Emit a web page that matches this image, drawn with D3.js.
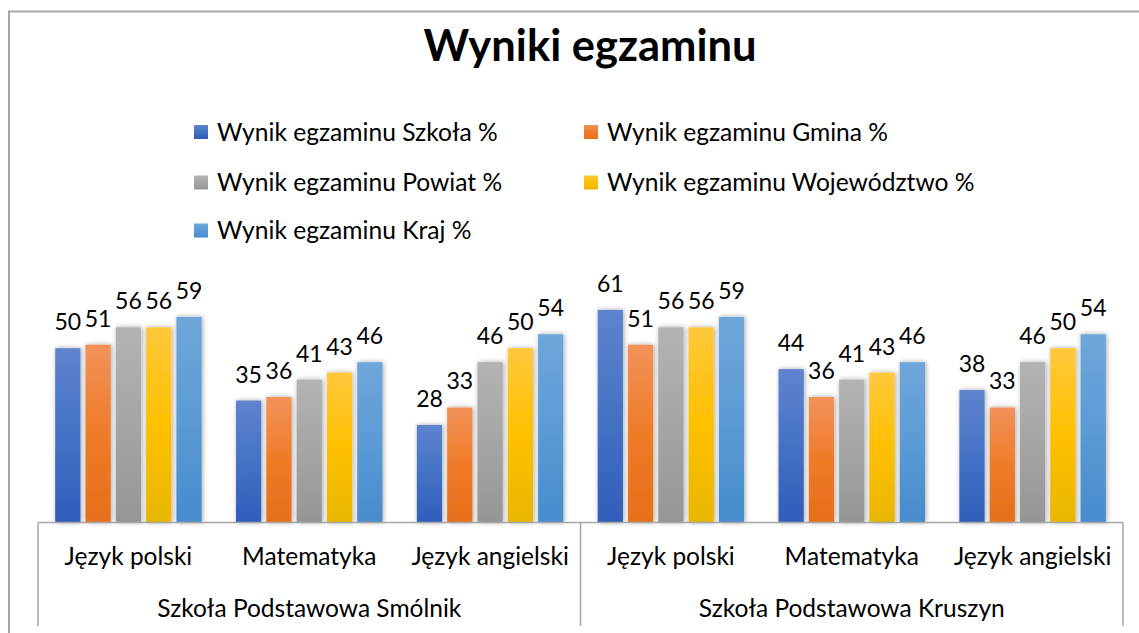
<!DOCTYPE html>
<html>
<head>
<meta charset="utf-8">
<script src="https://cdn.jsdelivr.net/npm/d3@7"></script>
<style>
  body { margin: 0; background: #fff; }
  svg { display: block; font-family: Lato, "Open Sans", sans-serif; }
</style>
</head>
<body>
<svg width="1139" height="633"></svg>
<script>
// Chart data
const groups = ["Szkoła Podstawowa Smólnik", "Szkoła Podstawowa Kruszyn"];
const subjects = ["Język polski", "Matematyka", "Język angielski"];
const seriesNames = [
    "Wynik egzaminu Szkoła %",
    "Wynik egzaminu Gmina %",
    "Wynik egzaminu Powiat %",
    "Wynik egzaminu Województwo %",
    "Wynik egzaminu Kraj %"
];
const szkola      = [50, 35, 28, 61, 44, 38];
const gmina       = [51, 36, 33, 51, 36, 33];
const powiat      = [56, 41, 46, 56, 41, 46];
const wojewodztwo = [56, 43, 50, 56, 43, 50];
const kraj        = [59, 46, 54, 59, 46, 54];

const seriesValues = [szkola, gmina, powiat, wojewodztwo, kraj];
// top / middle / bottom gradient stops per series
const colors = [
    ["#5f83cf", "#4472c4", "#2f5dba"],
    ["#f2925a", "#ef7b28", "#e66f1a"],
    ["#b3b3b3", "#a5a5a5", "#959595"],
    ["#ffc83c", "#ffc000", "#e8b600"],
    ["#6ea6da", "#5b9bd5", "#468bcd"]
];

// flat category list: one entry per group/subject pair
const cats = groups.flatMap((g, gi) => subjects.map((s, si) => ({ g, s, gi, si, key: g + "|" + s })));

const svg = d3.select("svg");
const defs = svg.append("defs");

colors.forEach((c, i) => {
    const grad = defs.append("linearGradient")
        .attr("id", "grad" + i)
        .attr("x1", 0).attr("y1", 0).attr("x2", 0).attr("y2", 1);
    grad.append("stop").attr("offset", "0%").attr("stop-color", c[0]);
    grad.append("stop").attr("offset", "50%").attr("stop-color", c[1]);
    grad.append("stop").attr("offset", "100%").attr("stop-color", c[2]);
});

defs.append("filter").attr("id", "shadow")
    .attr("x", "-30%").attr("y", "-10%").attr("width", "160%").attr("height", "120%")
    .append("feDropShadow")
    .attr("dx", 1).attr("dy", 0).attr("stdDeviation", 2.5)
    .attr("flood-color", "#000").attr("flood-opacity", 0.35);

// outer chart frame (cropped on the right and bottom)
svg.append("path")
    .attr("d", "M9,640V11.5H1150")
    .attr("fill", "none")
    .attr("stroke", "#a6a6a6")
    .attr("stroke-width", 2);

// title
svg.append("text")
    .attr("x", 590).attr("y", 61)
    .attr("text-anchor", "middle")
    .attr("font-size", 43.5).attr("font-weight", "bold")
    .attr("fill", "#000")
    .text("Wyniki egzaminu");

// legend
const legendCols = [194, 584];
const legendRows = [132, 182.5, 230.5];
const legend = svg.append("g").selectAll("g")
    .data(seriesNames)
    .join("g")
    .attr("transform", (d, i) => `translate(${legendCols[i % 2]},${legendRows[Math.floor(i / 2)]})`);
legend.append("rect")
    .attr("x", 0).attr("y", -7).attr("width", 14).attr("height", 14)
    .attr("fill", (d, i) => `url(#grad${i})`);
legend.append("text")
    .attr("x", 23).attr("y", 0).attr("dy", "0.35em")
    .attr("font-size", 24.6).attr("fill", "#000")
    .text(d => d);

// scales
const x0 = d3.scaleBand()
    .domain(cats.map(d => d.key))
    .range([38, 1123])
    .paddingInner(0.19)
    .paddingOuter(0.095);
const x1 = d3.scaleBand()
    .domain(d3.range(seriesNames.length))
    .range([0, x0.bandwidth()])
    .paddingInner(1 / 6);
const y = d3.scaleLinear().domain([0, 70]).range([522.5, 278.5]);

// bars
const barData = cats.flatMap((c, ci) => seriesValues.map((vals, si) => ({ c, si, v: vals[ci] })));
const bars = svg.append("g");
bars.selectAll("rect")
    .data(barData)
    .join("rect")
    .attr("x", d => x0(d.c.key) + x1(d.si))
    .attr("y", d => y(d.v))
    .attr("width", x1.bandwidth())
    .attr("height", d => y(0) - y(d.v))
    .attr("fill", d => `url(#grad${d.si})`)
    .attr("filter", "url(#shadow)");

// data labels
svg.append("g").selectAll("text")
    .data(barData)
    .join("text")
    .attr("x", d => x0(d.c.key) + x1(d.si) + x1.bandwidth() / 2)
    .attr("y", d => y(d.v) - 18)
    .attr("text-anchor", "middle")
    .attr("font-size", 23)
    .attr("fill", "#000")
    .text(d => d.v);

// multi-level category axis
const axis = svg.append("g")
    .attr("stroke", "#a6a6a6").attr("stroke-width", 1.5).attr("fill", "none");
axis.append("line")
    .attr("x1", x0.range()[0]).attr("x2", x0.range()[1])
    .attr("y1", y(0)).attr("y2", y(0));
const groupEdges = groups.map((g, gi) => x0(cats[gi * subjects.length].key) - x0.step() * x0.paddingInner() / 2);
groupEdges.push(x0.range()[1]);
groupEdges[0] = x0.range()[0];
axis.selectAll("line.sep")
    .data(groupEdges)
    .join("line")
    .attr("class", "sep")
    .attr("x1", d => d).attr("x2", d => d)
    .attr("y1", y(0)).attr("y2", 626);

svg.append("g").selectAll("text")
    .data(cats)
    .join("text")
    .attr("x", d => x0(d.key) + x0.bandwidth() / 2)
    .attr("y", 565)
    .attr("text-anchor", "middle")
    .attr("font-size", 24.5).attr("fill", "#000")
    .text(d => d.s);

svg.append("g").selectAll("text")
    .data(groups)
    .join("text")
    .attr("x", (d, i) => (groupEdges[i] + groupEdges[i + 1]) / 2)
    .attr("y", 617)
    .attr("text-anchor", "middle")
    .attr("font-size", 24.5).attr("fill", "#000")
    .text(d => d);
</script>
</body>
</html>
